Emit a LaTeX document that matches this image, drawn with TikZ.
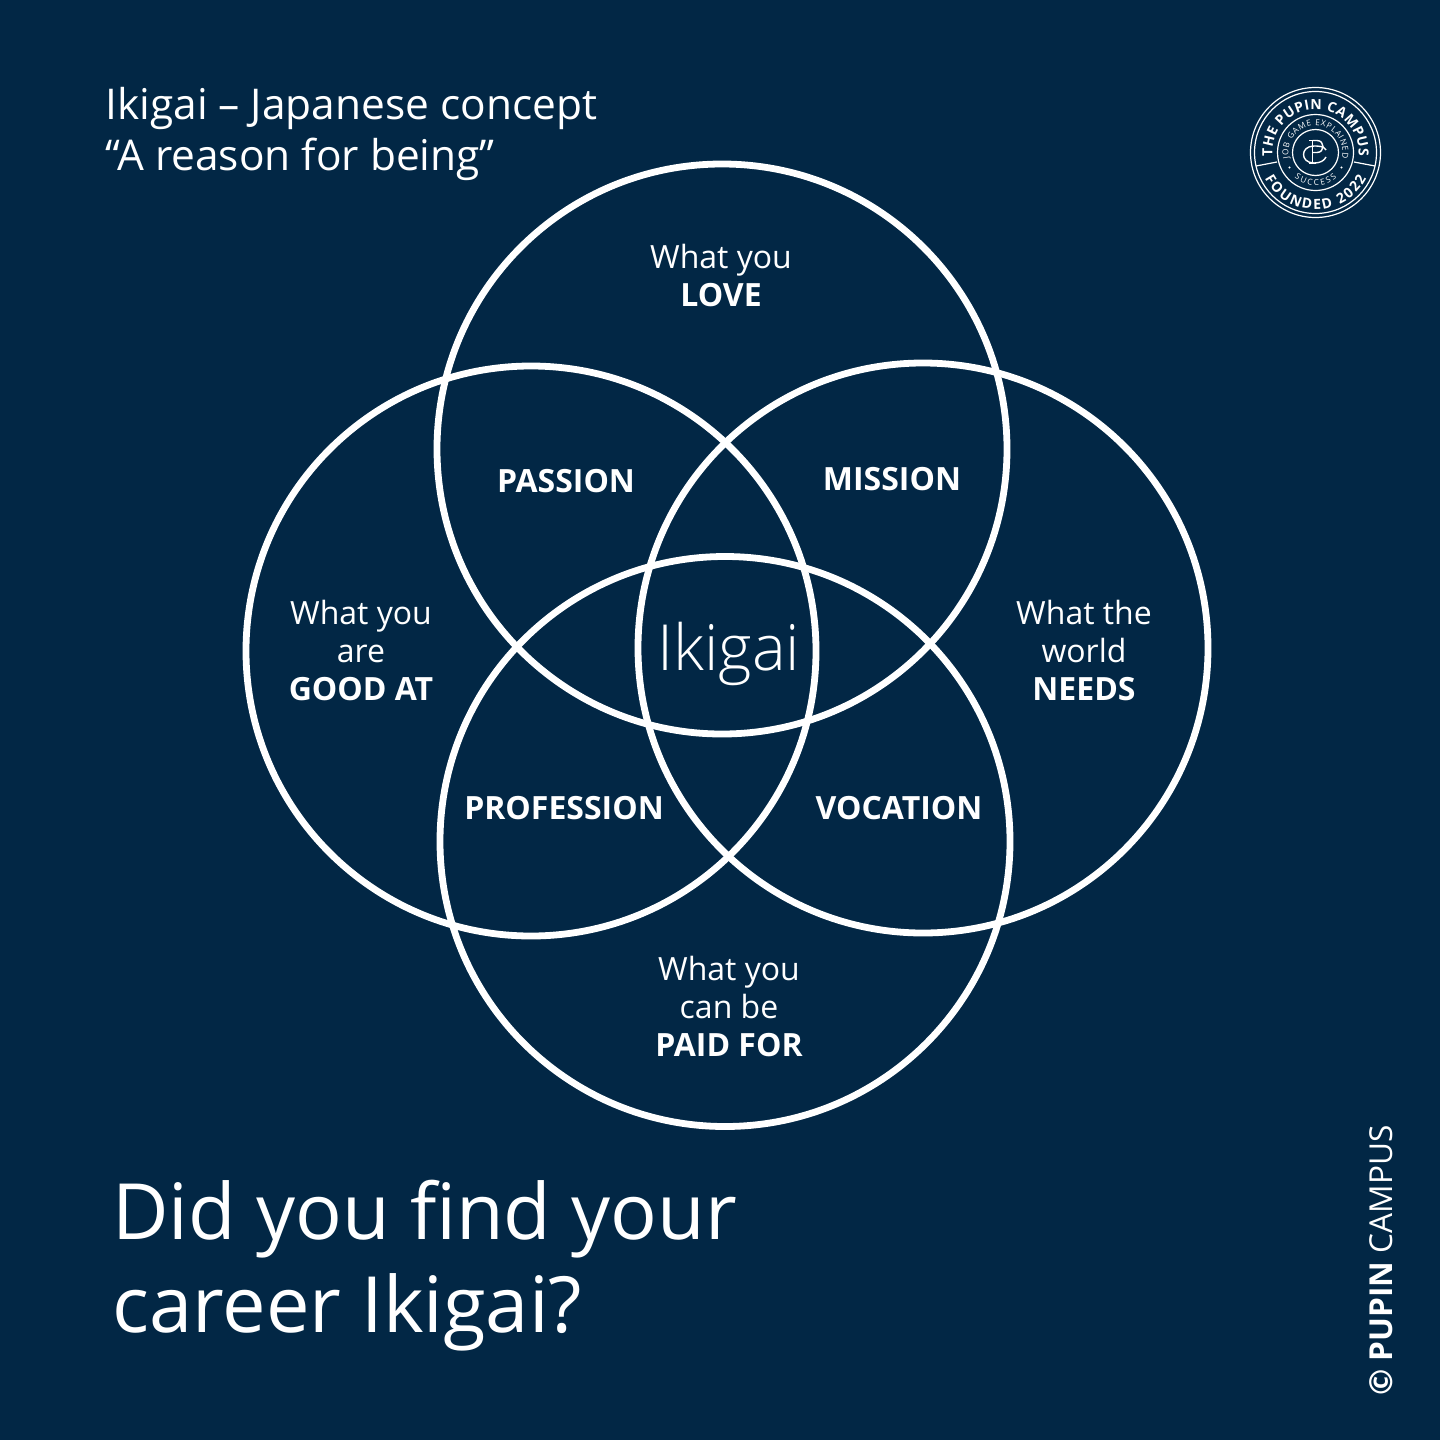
\documentclass[tikz,border=0pt]{standalone}
\usepackage{fontspec}
\setmainfont{Open Sans}
\newfontfamily\lightfont{Open Sans Light}
\usetikzlibrary{decorations.text}
\definecolor{navy}{HTML}{022745}
\tikzset{
  x=0.5pt,y=-0.5pt,
  ring/.style={circle,draw=white,line width=3.4pt,minimum size=285pt,inner sep=0pt,outer sep=0pt},
  label/.style={text=white,align=center,font=\fontsize{16}{19}\selectfont,inner sep=0pt},
  region/.style={text=white,font=\fontsize{16}{19}\selectfont\bfseries,inner sep=0pt},
  head/.style={text=white,align=left,font=\fontsize{21.2}{25.5}\selectfont,inner sep=0pt,anchor=west},
  seal/.style={draw=white,line width=0.6pt},
}
\begin{document}
\begin{tikzpicture}
\useasboundingbox (0,0) rectangle (1440,1440);
\fill[navy] (0,0) rectangle (1440,1440);
% rings
\node[ring] (love) at (722,449) {};
\node[ring] (good) at (531,651) {};
\node[ring] (world) at (923,648) {};
\node[ring] (paid) at (725,841.5) {};
% headline
\node[head] (title) at (105,134) {Ikigai – Japanese concept\\“A reason for being”};
\node[head,font=\fontsize{38.8}{46.4}\selectfont] (question) at (112,1266) {Did you find your\\career Ikigai?};
% labels
\node[label] (tlove) at (721,275) {What you\\\textbf{LOVE}};
\node[label] (tgood) at (361,650) {What you\\are\\\textbf{GOOD AT}};
\node[label] (tworld) at (1084,650) {What the\\world\\\textbf{NEEDS}};
\node[label] (tpaid) at (729,1006) {What you\\can be\\\textbf{PAID FOR}};
\node[region] (passion) at (566,481) {PASSION};
\node[region] (mission) at (892,479) {MISSION};
\node[region] (profession) at (564,808) {PROFESSION};
\node[region] (vocation) at (899,808) {VOCATION};
\node[text=white,inner sep=0pt,font=\fontsize{31.8}{38}\lightfont] (ikigai) at (729,654) {Ikigai};
% copyright
\node[text=white,rotate=90,anchor=west,inner sep=0pt,font=\fontsize{15.8}{18}\selectfont] (copy) at (1381,1396) {\textbf{© PUPIN} CAMPUS};
% seal
\coordinate (sc) at (1315.5,152.5);
\draw[seal] (sc) circle[radius=32.5pt];
\draw[seal] (sc) circle[radius=30.5pt];
\draw[seal] (sc) circle[radius=19pt];
\draw[seal] (sc) circle[radius=11.5pt];
\draw[seal] (1256,166) -- (1277,162);
\draw[seal] (1354,162) -- (1375,166);
\path[decorate,decoration={text along path,text align=fit to path,text={|\color{white}\fontsize{7}{8}\selectfont\bfseries|THE PUPIN CAMPUS}}]
  (sc) ++(175:43) arc[start angle=175,end angle=365,radius=43];
\path[decorate,decoration={text along path,text align=fit to path,text={|\color{white}\fontsize{7}{8}\selectfont\bfseries|FOUNDED 2022}}]
  (sc) ++(153:57) arc[start angle=153,end angle=27,radius=57];
\path[decorate,decoration={text along path,text align=fit to path,text={|\color{white}\fontsize{4.1}{5}\selectfont|JOB GAME EXPLAINED}}]
  (sc) ++(168:27) arc[start angle=168,end angle=372,radius=27];
\path[decorate,decoration={text along path,text align=fit to path,text={|\color{white}\fontsize{4.1}{5}\selectfont|SUCCESS}}]
  (sc) ++(130:33) arc[start angle=130,end angle=50,radius=33];
\fill[white] (sc) ++(150:30) circle[radius=0.6pt];
\fill[white] (sc) ++(30:30) circle[radius=0.6pt];
% monogram
\draw[seal,line width=0.7pt] (1309,140.5) -- (1316,140.5) (1309,163.5) -- (1316,163.5) (1312.5,140.5) -- (1312.5,163.5);
\draw[seal,line width=0.7pt] (1312.5,140.5) -- (1317,140.5) .. controls (1325,140.5) and (1325,152.5) .. (1317,152.5) -- (1312.5,152.5);
\draw[seal,line width=0.7pt] (1326,150) .. controls (1324,146) and (1318,146) .. (1314,146) .. controls (1300,146) and (1300,163) .. (1314,163) .. controls (1320,163) and (1324,161) .. (1326,157);
\end{tikzpicture}
\end{document}
